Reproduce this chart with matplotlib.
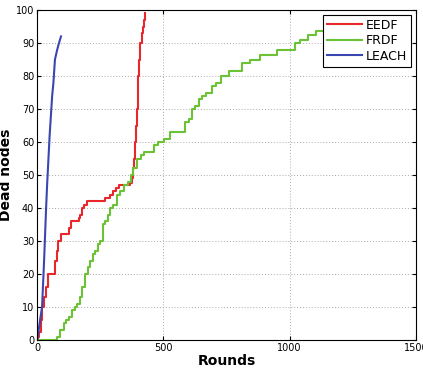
import matplotlib.pyplot as plt

# EEDF (red)
eedf_rounds = [0, 5, 9, 14, 21, 28, 35, 45, 65, 72, 78, 85, 95, 118, 125, 133, 157, 165, 170, 180, 188, 196,
               262, 268, 281, 290, 300, 313, 325, 339, 369, 375, 381, 385, 389, 392, 395, 398, 400, 405,
               409, 414, 419, 423, 426]
eedf_vals = [0, 1, 2.5, 6, 10, 13, 16, 20, 20, 24, 27, 30, 32, 32, 34, 36, 36, 37, 38, 40, 41, 42,
             42, 43, 43, 44, 45, 46, 47, 47, 47.5, 49, 52, 55, 60, 65, 70, 75, 80, 85,
             90, 93, 95, 97, 99]

# FRDF (green)
frdf_rounds = [0, 71, 80, 90, 105, 115, 125, 140, 151, 160, 170, 180, 190, 200, 210, 220, 230, 240, 250,
               262, 270, 280, 290, 300, 317, 330, 344, 362, 372, 381, 395, 410, 422, 455, 462, 480, 502,
               528, 567, 587, 600, 614, 627, 640, 655, 670, 694, 710, 730, 760, 800, 810, 843, 883, 950,
               1020, 1040, 1075, 1105, 1140, 1160, 1250]
frdf_vals = [0, 0, 1, 3, 5, 6, 7, 9, 10, 11, 13, 16, 20, 22, 24, 26, 27, 29, 30,
             35, 36, 38, 40, 41, 44, 45, 47, 48, 50, 52, 55, 56, 57, 57, 59, 60, 61,
             63, 63, 66, 67, 70, 71, 73, 74, 75, 77, 78, 80, 81.5, 81.5, 84, 85, 86.5, 88,
             90, 91, 92.5, 93.5, 94.5, 96, 96]

# LEACH (blue)
leach_rounds = [0, 5, 12, 20, 28, 36, 40, 50, 60, 65, 71, 80, 87, 95]
leach_vals = [0, 2, 6, 10, 24, 40, 47, 62, 74, 78, 85, 88, 90, 92]

fig = plt.figure(figsize=(4.23, 3.71), dpi=100)
ax = fig.add_axes([0.0875, 0.0836, 0.8955, 0.8894])

ax.plot(eedf_rounds, eedf_vals, color='#e8262b', lw=1.5, drawstyle='steps-post', label='EEDF')
ax.plot(frdf_rounds, frdf_vals, color='#6cc235', lw=1.5, drawstyle='steps-post', label='FRDF')
ax.plot(leach_rounds, leach_vals, color='#3a47b0', lw=1.5, label='LEACH')

ax.set_xlim(0, 1500)
ax.set_ylim(0, 100)
ax.set_xticks([0, 500, 1000, 1500])
ax.set_yticks(range(0, 101, 10))
ax.tick_params(direction='in', top=True, right=True, labelsize=7, length=3, pad=2)
ax.grid(True, linestyle=(0, (1, 2)), color='#aaaaaa', lw=0.7)

ax.set_xlabel('Rounds', fontsize=10, fontweight='bold', labelpad=1)
ax.set_ylabel('Dead nodes', fontsize=10, fontweight='bold', labelpad=2)

leg = ax.legend(loc='upper right', fontsize=9, handlelength=2.8, handletextpad=0.3,
                borderpad=0.3, labelspacing=0.2, fancybox=False, framealpha=1,
                edgecolor='black', borderaxespad=0.4)
leg.get_frame().set_linewidth(0.8)

fig.savefig('out.png', dpi=100)
